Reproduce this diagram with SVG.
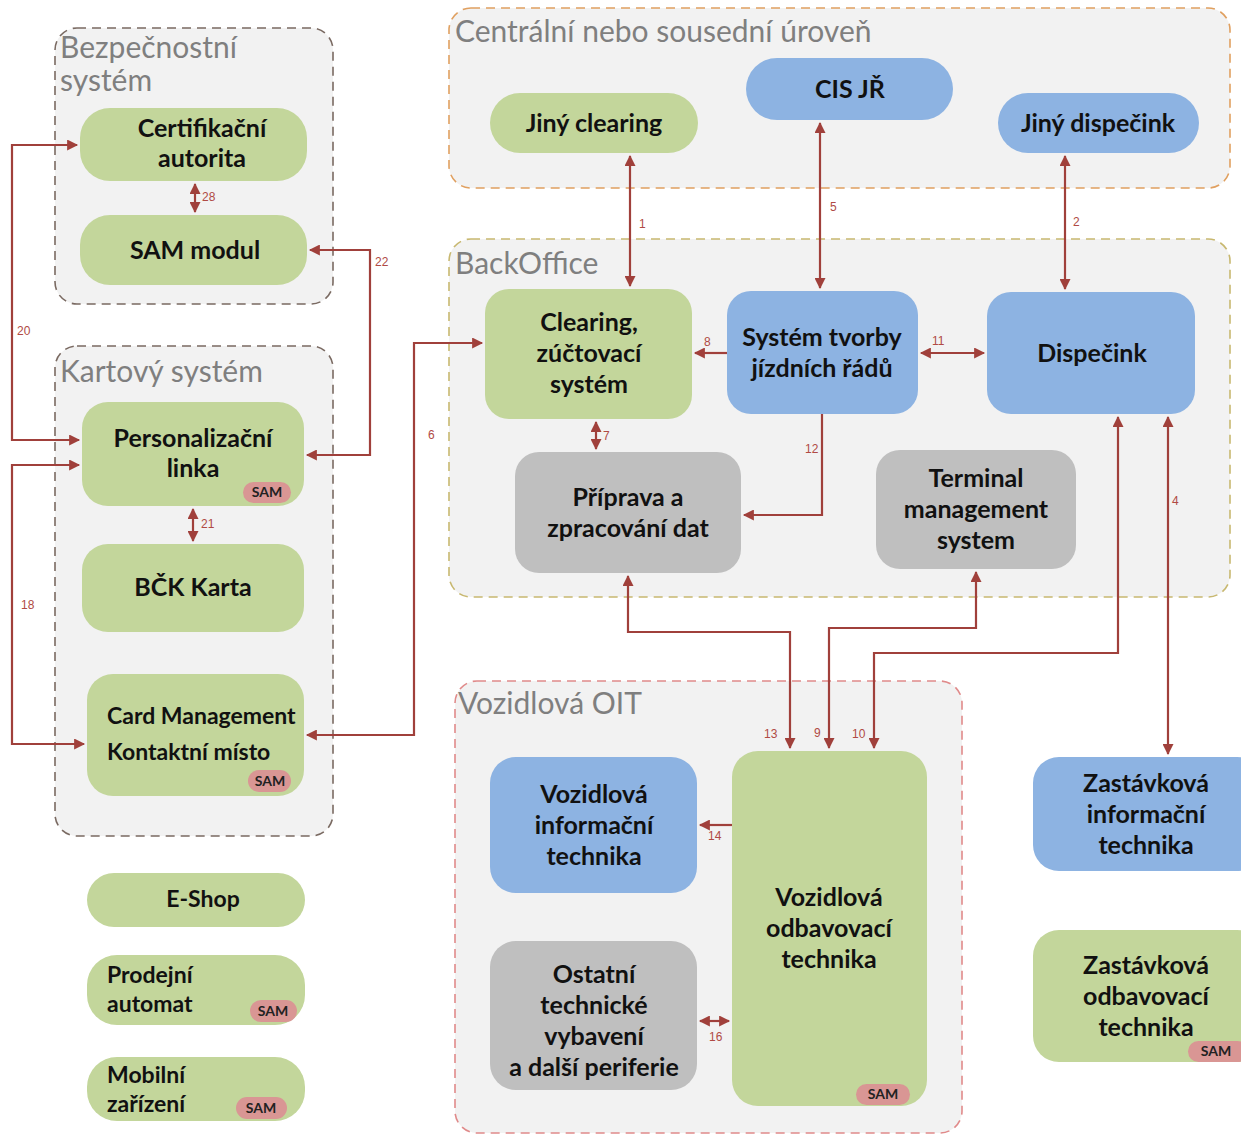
<svg xmlns="http://www.w3.org/2000/svg" width="1241" height="1136" viewBox="0 0 1241 1136">
<style>
.cont{fill:#F2F2F2;stroke-width:1.6;stroke-dasharray:9 6}
.ctitle{font-family:Lato,"Open Sans",sans-serif;font-size:30px;fill:#7F7F7F}
.g{fill:#C3D69B}
.b{fill:#8DB3E2}
.gr{fill:#BFBFBF}
.t{font-family:Lato,"Open Sans",sans-serif;font-weight:700;font-size:25px;fill:#111;text-anchor:middle}
.tl{font-family:Lato,"Open Sans",sans-serif;font-weight:700;font-size:23px;fill:#111}
.sam{fill:#D99694}
.samt{font-family:Lato,"Open Sans",sans-serif;font-weight:700;font-size:14px;fill:#222;text-anchor:middle}
.c{fill:none;stroke:#A0403B;stroke-width:2.2}
.lbl{font-family:"Liberation Sans",Arial,sans-serif;font-size:12px;fill:#B04A44}
</style>
<defs>
<marker id="ah" viewBox="0 0 10 10" refX="9" refY="5" markerWidth="5.5" markerHeight="5" orient="auto-start-reverse" markerUnits="strokeWidth">
<path d="M0,0 L10,5 L0,10 z" fill="#A0403B"/>
</marker>
</defs>
<rect width="1241" height="1136" fill="#FFFFFF"/>

<g id="containers">
<g id="c-bezp"><rect class="cont" x="55" y="28" width="278" height="276" rx="22" stroke="#7A6A62"/><text class="ctitle" x="60" y="58">Bezpečnostní</text><text class="ctitle" x="60" y="91">systém</text></g>
<g id="c-kart"><rect class="cont" x="55" y="346" width="278" height="490" rx="22" stroke="#7A6A62"/><text class="ctitle" x="60" y="382">Kartový systém</text></g>
<g id="c-centr"><rect class="cont" x="449" y="8" width="781" height="180" rx="22" stroke="#E0A060"/><text class="ctitle" x="455" y="42">Centrální nebo sousední úroveň</text></g>
<g id="c-back"><rect class="cont" x="449" y="239" width="781" height="358" rx="22" stroke="#C8B870"/><text class="ctitle" x="455" y="274">BackOffice</text></g>
<g id="c-voz"><rect class="cont" x="455" y="681" width="507" height="452" rx="22" stroke="#E08A8A"/><text class="ctitle" x="458" y="714">Vozidlová OIT</text></g>
</g>

<g id="connectors">
<path class="c" d="M630,156 V286" marker-start="url(#ah)" marker-end="url(#ah)"/>
<path class="c" d="M820,123 V288" marker-start="url(#ah)" marker-end="url(#ah)"/>
<path class="c" d="M1065,156 V289" marker-start="url(#ah)" marker-end="url(#ah)"/>
<path class="c" d="M727,353 H695" marker-end="url(#ah)"/>
<path class="c" d="M921,353 H984" marker-start="url(#ah)" marker-end="url(#ah)"/>
<path class="c" d="M596,422 V449" marker-start="url(#ah)" marker-end="url(#ah)"/>
<path class="c" d="M822,414 V515 H744" marker-end="url(#ah)"/>
<path class="c" d="M307,735 H414 V343 H482" marker-start="url(#ah)" marker-end="url(#ah)"/>
<path class="c" d="M310,250 H370 V455 H307" marker-start="url(#ah)" marker-end="url(#ah)"/>
<path class="c" d="M77,145 H12 V440 H79" marker-start="url(#ah)" marker-end="url(#ah)"/>
<path class="c" d="M79,465 H12 V744 H84" marker-start="url(#ah)" marker-end="url(#ah)"/>
<path class="c" d="M195,184 V212" marker-start="url(#ah)" marker-end="url(#ah)"/>
<path class="c" d="M193,509 V541" marker-start="url(#ah)" marker-end="url(#ah)"/>
<path class="c" d="M628,576 V632 H790 V748" marker-start="url(#ah)" marker-end="url(#ah)"/>
<path class="c" d="M976,572 V628 H829 V748" marker-start="url(#ah)" marker-end="url(#ah)"/>
<path class="c" d="M1118,417 V653 H874 V748" marker-start="url(#ah)" marker-end="url(#ah)"/>
<path class="c" d="M1168,417 V754" marker-start="url(#ah)" marker-end="url(#ah)"/>
<path class="c" d="M732,825 H700" marker-end="url(#ah)"/>
<path class="c" d="M700,1021 H729" marker-start="url(#ah)" marker-end="url(#ah)"/>
<text class="lbl" x="639" y="228">1</text>
<text class="lbl" x="830" y="211">5</text>
<text class="lbl" x="1073" y="226">2</text>
<text class="lbl" x="704" y="346">8</text>
<text class="lbl" x="932" y="345">11</text>
<text class="lbl" x="603" y="440">7</text>
<text class="lbl" x="805" y="453">12</text>
<text class="lbl" x="428" y="439">6</text>
<text class="lbl" x="375" y="266">22</text>
<text class="lbl" x="17" y="335">20</text>
<text class="lbl" x="21" y="609">18</text>
<text class="lbl" x="202" y="201">28</text>
<text class="lbl" x="201" y="528">21</text>
<text class="lbl" x="764" y="738">13</text>
<text class="lbl" x="814" y="737">9</text>
<text class="lbl" x="852" y="738">10</text>
<text class="lbl" x="1172" y="505">4</text>
<text class="lbl" x="708" y="840">14</text>
<text class="lbl" x="709" y="1041">16</text>
</g>

<g id="n-jiny-clearing"><rect class="g" x="490" y="93" width="208" height="60" rx="30"/><text class="t" x="594" y="132">Jiný clearing</text></g>
<g id="n-cis"><rect class="b" x="746" y="58" width="207" height="62" rx="31"/><text class="t" x="850" y="98">CIS JŘ</text></g>
<g id="n-jiny-disp"><rect class="b" x="998" y="93" width="201" height="60" rx="30"/><text class="t" x="1098" y="132">Jiný dispečink</text></g>

<g id="n-clearing"><rect class="g" x="485" y="289" width="207" height="130" rx="24"/><text class="t" x="589" y="331">Clearing,</text><text class="t" x="589" y="362">zúčtovací</text><text class="t" x="589" y="393">systém</text></g>
<g id="n-tvorba"><rect class="b" x="727" y="291" width="191" height="123" rx="24"/><text class="t" x="822" y="346">Systém tvorby</text><text class="t" x="822" y="377">jízdních řádů</text></g>
<g id="n-disp"><rect class="b" x="987" y="292" width="208" height="122" rx="24"/><text class="t" x="1092" y="362">Dispečink</text></g>
<g id="n-priprava"><rect class="gr" x="515" y="452" width="226" height="121" rx="24"/><text class="t" x="628" y="506">Příprava a</text><text class="t" x="628" y="537">zpracování dat</text></g>
<g id="n-tms"><rect class="gr" x="876" y="450" width="200" height="119" rx="24"/><text class="t" x="976" y="487">Terminal</text><text class="t" x="976" y="518">management</text><text class="t" x="976" y="549">system</text></g>

<g id="n-cert"><rect class="g" x="80" y="108" width="227" height="73" rx="30"/><text class="t" x="202" y="137">Certifikační</text><text class="t" x="202" y="167">autorita</text></g>
<g id="n-sam"><rect class="g" x="80" y="215" width="227" height="70" rx="30"/><text class="t" x="195" y="259">SAM modul</text></g>
<g id="n-pers"><rect class="g" x="82" y="402" width="222" height="104" rx="26"/><text class="t" x="193" y="447">Personalizační</text><text class="t" x="193" y="477">linka</text><rect class="sam" x="243" y="482" width="48" height="21" rx="10.5"/><text class="samt" x="267" y="497">SAM</text></g>
<g id="n-bck"><rect class="g" x="82" y="544" width="222" height="88" rx="26"/><text class="t" x="193" y="596">BČK Karta</text></g>
<g id="n-cardm"><rect class="g" x="87" y="674" width="217" height="122" rx="26"/><text class="tl" x="107" y="724">Card Management</text><text class="tl" x="107" y="760">Kontaktní místo</text><rect class="sam" x="248" y="770" width="43" height="22" rx="11"/><text class="samt" x="270" y="786">SAM</text></g>
<g id="n-eshop"><rect class="g" x="87" y="873" width="218" height="54" rx="27"/><text class="tl" x="203" y="907" text-anchor="middle">E-Shop</text></g>
<g id="n-prodej"><rect class="g" x="87" y="955" width="218" height="70" rx="30"/><text class="tl" x="107" y="983">Prodejní</text><text class="tl" x="107" y="1012">automat</text><rect class="sam" x="250" y="1000" width="47" height="22" rx="11"/><text class="samt" x="273" y="1016">SAM</text></g>
<g id="n-mobil"><rect class="g" x="87" y="1057" width="218" height="64" rx="30"/><text class="tl" x="107" y="1083">Mobilní</text><text class="tl" x="107" y="1112">zařízení</text><rect class="sam" x="236" y="1097" width="51" height="22" rx="11"/><text class="samt" x="261" y="1113">SAM</text></g>

<g id="n-voz-info"><rect class="b" x="490" y="757" width="207" height="136" rx="26"/><text class="t" x="594" y="803">Vozidlová</text><text class="t" x="594" y="834">informační</text><text class="t" x="594" y="865">technika</text></g>
<g id="n-ostatni"><rect class="gr" x="490" y="941" width="207" height="149" rx="26"/><text class="t" x="594" y="983">Ostatní</text><text class="t" x="594" y="1014">technické</text><text class="t" x="594" y="1045">vybavení</text><text class="t" x="594" y="1076">a další periferie</text></g>
<g id="n-voz-odb"><rect class="g" x="732" y="751" width="195" height="355" rx="26"/><text class="t" x="829" y="906">Vozidlová</text><text class="t" x="829" y="937">odbavovací</text><text class="t" x="829" y="968">technika</text><rect class="sam" x="856" y="1084" width="54" height="21" rx="10.5"/><text class="samt" x="883" y="1099">SAM</text></g>

<g id="n-zast-info"><rect class="b" x="1033" y="757" width="230" height="114" rx="26"/><text class="t" x="1146" y="792">Zastávková</text><text class="t" x="1146" y="823">informační</text><text class="t" x="1146" y="854">technika</text></g>
<g id="n-zast-odb"><rect class="g" x="1033" y="930" width="230" height="132" rx="26"/><text class="t" x="1146" y="974">Zastávková</text><text class="t" x="1146" y="1005">odbavovací</text><text class="t" x="1146" y="1036">technika</text><rect class="sam" x="1188" y="1041" width="60" height="21" rx="10.5"/><text class="samt" x="1216" y="1056">SAM</text></g>
</svg>
